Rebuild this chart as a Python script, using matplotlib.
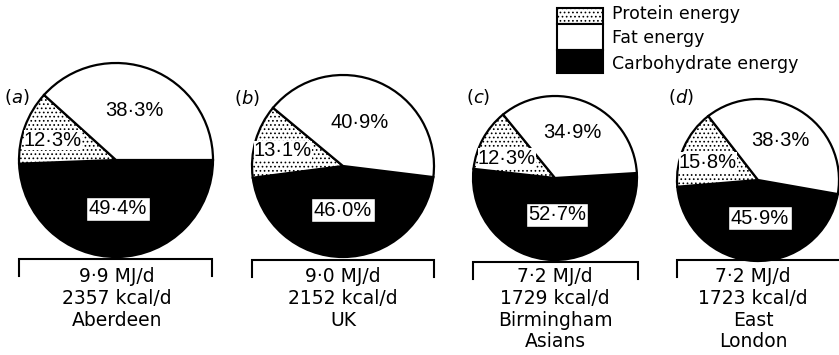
import matplotlib
matplotlib.use('Agg')
from matplotlib import pyplot as plt
from matplotlib.patches import Rectangle

# energy split (percent of total energy) for the four groups
panels = ['a', 'b', 'c', 'd']
carb = [49.4, 46.0, 52.7, 45.9]
protein = [12.3, 13.1, 12.3, 15.8]
fat = [38.3, 40.9, 34.9, 38.3]
mj_per_day = ['9·9', '9·0', '7·2', '7·2']
kcal_per_day = [2357, 2152, 1729, 1723]
groups = ['Aberdeen', 'UK', 'Birmingham\nAsians', 'East\nLondon']

W, H = 839, 355
plt.rcParams['hatch.linewidth'] = 0.7

fig = plt.figure(figsize=(W / 100, H / 100), dpi=100)
ax = fig.add_axes([0, 0, 1, 1])

def up(y):
    # picture rows run downwards, axes y runs upwards
    return H - y

# layout of each pie in pixels: centre x, centre y, radius, start angle
pie_cx = [116, 343, 555, 758]
pie_cy = [160, 166, 178, 180]
pie_r = [97, 91, 82, 81]
start = [0, -7, 3.5, -10]
# where the labels sit
tag_xy = [(17, 97), (247, 98), (478, 97), (681, 97)]
fat_xy = [(134, 110), (360, 122), (572, 133), (780, 140)]
prot_xy = [(53, 140), (283, 151), (507, 158), (708, 162)]
carb_xy = [(118, 209), (343, 210), (557, 215), (760, 218)]
brk_y = [259, 260, 262, 260]
brk_x = [(19, 212), (252, 434), (473, 638), (677, 850)]
txt_x = [117, 343, 555, 753]

pct_font = dict(family='Liberation Sans', size=14.5)
for i in range(4):
    wedges, _ = ax.pie([carb[i], protein[i], fat[i]],
                       colors=['black', 'white', 'white'],
                       startangle=start[i], counterclock=False,
                       center=(pie_cx[i], up(pie_cy[i])), radius=pie_r[i],
                       wedgeprops=dict(edgecolor='black', linewidth=1.6))
    wedges[1].set_hatch('....')

    ax.text(tag_xy[i][0], up(tag_xy[i][1]), r'($\mathit{%s}$)' % panels[i],
            ha='center', va='center', fontsize=13)
    ax.text(fat_xy[i][0], up(fat_xy[i][1]), ('%.1f%%' % fat[i]).replace('.', '·'),
            ha='center', va='center', **pct_font)
    ax.text(prot_xy[i][0], up(prot_xy[i][1]), ('%.1f%%' % protein[i]).replace('.', '·'),
            ha='center', va='center', **pct_font,
            bbox=dict(boxstyle='square,pad=0.02', fc='white', ec='none'))
    ax.text(carb_xy[i][0], up(carb_xy[i][1]), ('%.1f%%' % carb[i]).replace('.', '·'),
            ha='center', va='center', **pct_font,
            bbox=dict(boxstyle='square,pad=0.12', fc='white', ec='black', lw=1))

    x0, x1 = brk_x[i]
    yb = up(brk_y[i])
    ax.plot([x0, x0, x1, x1], [yb - 17, yb, yb, yb - 17], color='black', lw=1.5,
            solid_joinstyle='miter')
    lines = [mj_per_day[i] + ' MJ/d', '%d kcal/d' % kcal_per_day[i]] + groups[i].split('\n')
    for k, s in enumerate(lines):
        ax.text(txt_x[i], up(277 + 21.5 * k), s, ha='center', va='center', fontsize=13.5)

# legend drawn as stacked boxes
leg_x, leg_w = 557, 46
leg_rows = [(8, 24, 'white', '....', 'Protein energy', 14),
            (24, 50, 'white', None, 'Fat energy', 38),
            (50, 73, 'black', None, 'Carbohydrate energy', 64)]
for top, bot, fc, hatch, label, ty in leg_rows:
    ax.add_patch(Rectangle((leg_x, up(bot)), leg_w, bot - top, facecolor=fc,
                           edgecolor='black', lw=1.5, hatch=hatch))
    ax.text(612, up(ty), label, ha='left', va='center', fontsize=12.5)

ax.set_xlim(0, W)
ax.set_ylim(0, H)
ax.set_aspect('equal')
ax.axis('off')
fig.savefig('out.png', dpi=100)
